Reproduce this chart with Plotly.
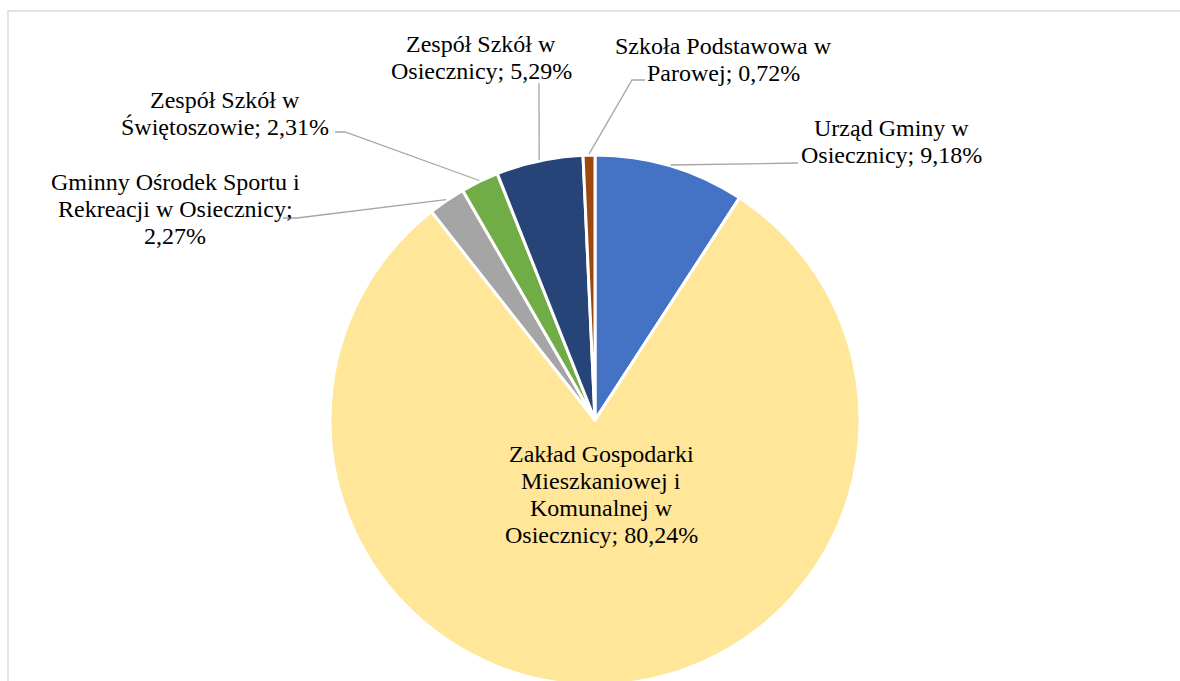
import math
import plotly.graph_objects as go

# ---- data ----
labels = [
    "Urząd Gminy w Osiecznicy",
    "Zakład Gospodarki Mieszkaniowej i Komunalnej w Osiecznicy",
    "Gminny Ośrodek Sportu i Rekreacji w Osiecznicy",
    "Zespół Szkół w Świętoszowie",
    "Zespół Szkół w Osiecznicy",
    "Szkoła Podstawowa w Parowej",
]
values = [9.18, 80.24, 2.27, 2.31, 5.29, 0.72]
colors = ["#4472C4", "#FFE699", "#A5A5A5", "#70AD47", "#264478", "#9E480E"]
# words per label line (wrapping of "<name>; <value>%")
words_per_line = [[3, 2], [2, 2, 2, 2], [4, 3, 1], [3, 2], [3, 2], [3, 2]]

# ---- layout / style (pixels) ----
W, H = 1180, 690          # figure slightly taller than the 681 window: pie is cut at bottom
PIE_TOP, PIE_BOTTOM = 155, 685
CX = 595
LINE_H = 27
FONT = "Liberation Serif, Times New Roman, serif"
# label text center x, first line center y
label_pos = [(891, 128), (601, 454), (175, 182), (225, 100), (481, 44), (723, 45.5)]
# leader: label-side start point and elbow (None -> no leader)
leader_pts = [
    [(798, 163)],
    None,
    [(283, 218), (297, 218)],
    [(335, 132), (345, 132)],
    [(539, 83)],
    [(645, 80), (632, 80)],
]


def px(x):
    return x / W


def py(y):
    return 1 - y / H


R = (PIE_BOTTOM - PIE_TOP) / 2.0
CY = PIE_TOP + R
dom_x = [px(CX - R), px(CX + R)]
dom_y = [py(PIE_BOTTOM), py(PIE_TOP)]

fig = go.Figure()
fig.add_trace(
    go.Pie(
        labels=labels,
        values=values,
        sort=False,
        direction="clockwise",
        rotation=0,
        textinfo="none",
        hoverinfo="label+percent",
        marker=dict(colors=colors, line=dict(color="white", width=3)),
        domain=dict(x=dom_x, y=dom_y),
        showlegend=False,
    )
)

total = sum(values)
annotations = []
shapes = []
cum = 0.0
for i, (name, v) in enumerate(zip(labels, values)):
    mid = (cum + v / 2) / total
    cum += v
    ang = 2 * math.pi * mid
    ex = CX + (R + 1) * math.sin(ang)
    ey = CY - (R + 1) * math.cos(ang)

    full = f"{name}; {v:.2f}%".replace(".", ",")
    words = full.split(" ")
    lines = []
    k = 0
    for n in words_per_line[i]:
        lines.append(" ".join(words[k:k + n]))
        k += n
    lx, ly = label_pos[i]
    for j, line in enumerate(lines):
        annotations.append(
            dict(
                x=px(lx), y=py(ly + j * LINE_H), xref="paper", yref="paper",
                text=line, showarrow=False, xanchor="center", yanchor="middle",
                font=dict(family=FONT, size=24, color="#000000"),
            )
        )
    if leader_pts[i]:
        pts = leader_pts[i] + [(ex, ey)]
        path = "M " + " L ".join(f"{px(a)},{py(b)}" for a, b in pts)
        shapes.append(
            dict(type="path", path=path, xref="paper", yref="paper",
                 line=dict(color="#A6A6A6", width=1.3))
        )

# chart area border
shapes.append(
    dict(type="rect", xref="paper", yref="paper",
         x0=px(8), x1=px(W + 10), y0=py(H + 10), y1=py(11),
         line=dict(color="#D9D9D9", width=1.3), fillcolor="rgba(0,0,0,0)", layer="below")
)

fig.update_layout(
    width=W, height=H,
    margin=dict(l=0, r=0, t=0, b=0),
    paper_bgcolor="white", plot_bgcolor="white",
    annotations=annotations, shapes=shapes,
    showlegend=False,
)

fig.write_html(
    "out.html",
    config={"displayModeBar": False},
    post_script="document.body.style.margin='0px';document.body.style.overflow='hidden';",
)
